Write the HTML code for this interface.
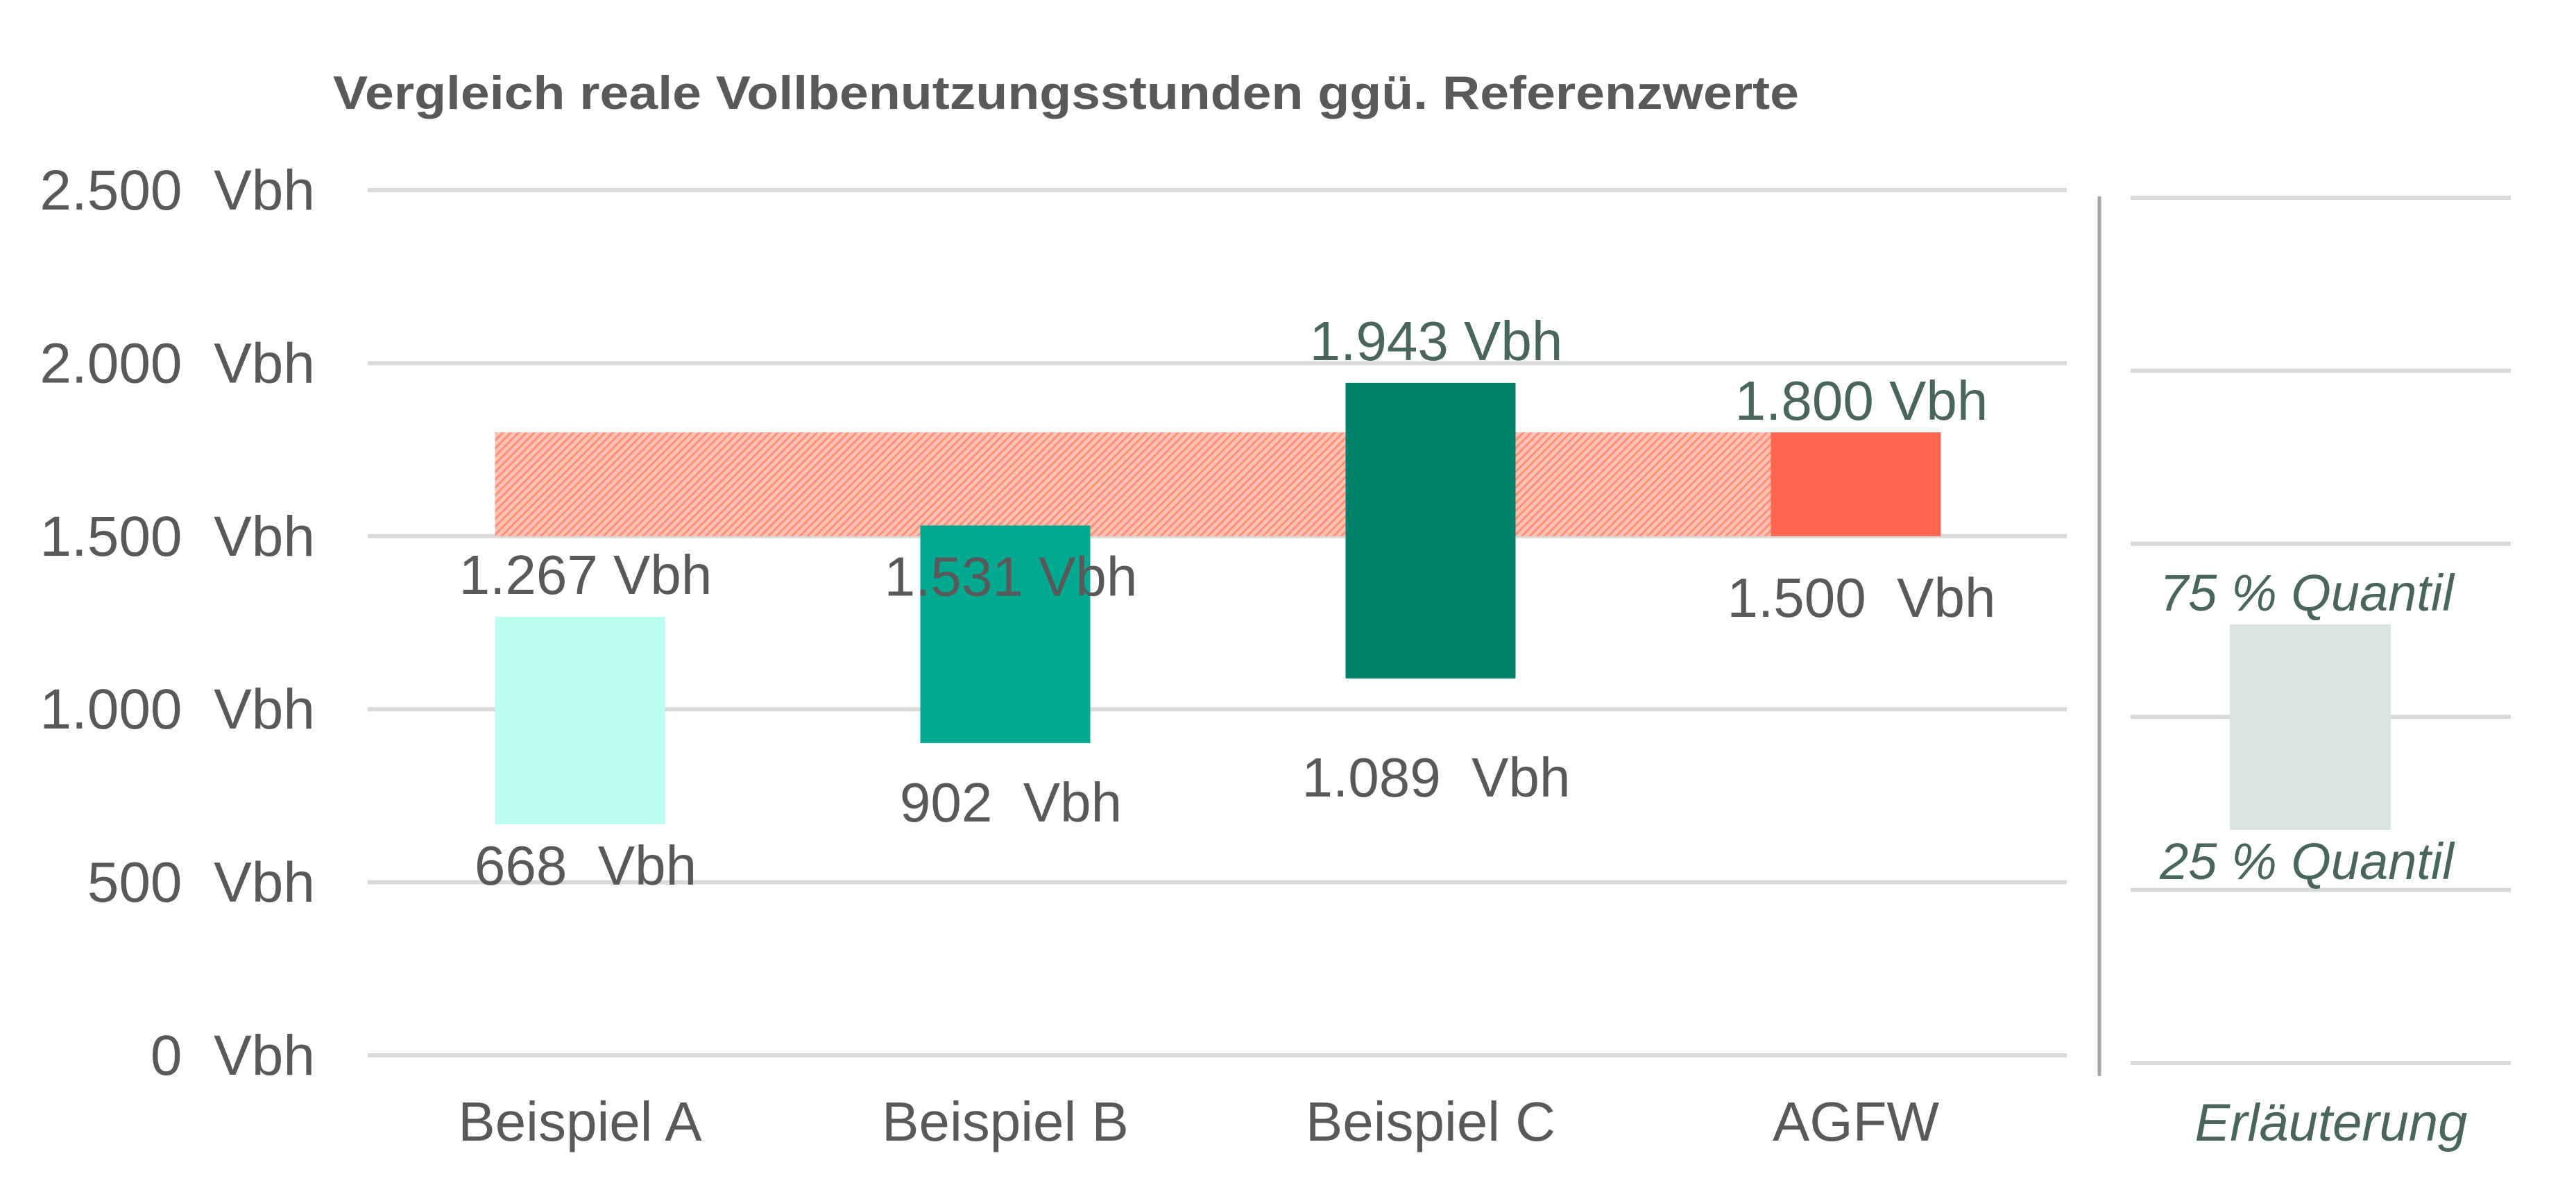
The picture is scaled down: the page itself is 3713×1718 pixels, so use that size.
<!DOCTYPE html>
<html><head><meta charset="utf-8"><style>
html,body{margin:0;padding:0;background:#fff;}
svg{display:block;font-family:"Liberation Sans",Arial,sans-serif;}
</style></head><body>
<svg id="chart" width="3713" height="1718" viewBox="0 0 3713 1718" xmlns="http://www.w3.org/2000/svg">
<defs>
<pattern id="hatch" width="8" height="8" patternUnits="userSpaceOnUse" patternTransform="rotate(45)">
<rect width="8" height="8" fill="#ffc2b4"/>
<rect width="3" height="8" fill="#ff8f78"/>
</pattern>
</defs>
<text x="480" y="157" font-size="68" font-weight="bold" fill="#595959" textLength="2113" lengthAdjust="spacingAndGlyphs">Vergleich reale Vollbenutzungsstunden ggü. Referenzwerte</text>
<g id="grid"></g>
<g id="yaxis"></g>
<g id="bars"></g>
<g id="labels"></g>
<g id="xaxis"></g>
<line x1="3026" y1="283" x2="3026" y2="1551" stroke="#a6a6a6" stroke-width="5"/>
<g id="legendgrid"></g>
<rect x="3214" y="900" width="232" height="296" fill="#d9e3e0"/>
<text x="3325" y="880" font-size="74" font-style="italic" fill="#4a665c" text-anchor="middle">75 % Quantil</text>
<text x="3325" y="1267" font-size="74" font-style="italic" fill="#4a665c" text-anchor="middle">25 % Quantil</text>
<text x="3360" y="1644" font-size="76" font-style="italic" fill="#4a665c" text-anchor="middle">Erläuterung</text>
</svg>
<script>
const categories = ["Beispiel A","Beispiel B","Beispiel C","AGFW"];
const lowValues = [668, 902, 1089, 1500];
const highValues = [1267, 1531, 1943, 1800];
const lowLabels = ["668  Vbh","902  Vbh","1.089  Vbh","1.500  Vbh"];
const highLabels = ["1.267 Vbh","1.531 Vbh","1.943 Vbh","1.800 Vbh"];
const barColors = ["#baffef","#00a98f","#00806b","#ff664d"];
const highLabelColors = ["#595959","#595959","#4a665c","#4a665c"];
const yTicks = [0,500,1000,1500,2000,2500];
const yTickLabels = ["0  Vbh","500  Vbh","1.000  Vbh","1.500  Vbh","2.000  Vbh","2.500  Vbh"];
const refBand = [1500, 1800];

const NS="http://www.w3.org/2000/svg";
const y0=1521, yTop=274, vMax=2500;
function yS(v){return y0-(y0-yTop)*v/vMax;}
const xFirst=836, step=613, barW=245;
function xS(i){return xFirst+i*step;}
const highOff=[-33,101,-33,-18];
const lowOff=[87,113,170,116];
function mk(tag,attrs,parent,text){const e=document.createElementNS(NS,tag);for(const k in attrs)e.setAttribute(k,attrs[k]);if(text!==undefined)e.textContent=text;parent.appendChild(e);return e;}

const grid=document.getElementById('grid'), yaxis=document.getElementById('yaxis');
const lg=document.getElementById('legendgrid');
yTicks.forEach((t,i)=>{
  const l=mk('line',{x1:530,x2:2979,y1:yS(t),y2:yS(t),stroke:'#d9d9d9','stroke-width':6},grid);
  
  
  const tx=mk('text',{x:454,y:yS(t)+28,'font-size':82,fill:'#595959','text-anchor':'end','xml:space':'preserve'},yaxis,yTickLabels[i]);
  tx.style.whiteSpace='pre';
  
  
  const l2=mk('line',{x1:3071,x2:3619,y1:yS(t)+11,y2:yS(t)+11,stroke:'#d9d9d9','stroke-width':6},lg);
  
  
});

const bars=document.getElementById('bars');
const band=mk('rect',{x:xS(0)-barW/2,y:yS(refBand[1]),width:xS(3)-xS(0),height:yS(refBand[0])-yS(refBand[1]),fill:'url(#hatch)'},bars);



const labels=document.getElementById('labels'), xaxis=document.getElementById('xaxis');
categories.forEach((c,i)=>{
  const r=mk('rect',{x:xS(i)-barW/2,y:yS(highValues[i]),width:barW,height:yS(lowValues[i])-yS(highValues[i]),fill:barColors[i]},bars);
  
  
  const ht=mk('text',{x:xS(i)+8,y:yS(highValues[i])+highOff[i],'font-size':80,fill:highLabelColors[i],'text-anchor':'middle','xml:space':'preserve'},labels,highLabels[i]);
  
  
  const lt=mk('text',{x:xS(i)+8,y:yS(lowValues[i])+lowOff[i],'font-size':80,fill:'#595959','text-anchor':'middle','xml:space':'preserve'},labels,lowLabels[i]);
  lt.style.whiteSpace='pre';
  
  
  const ct=mk('text',{x:xS(i),y:1644,'font-size':80,fill:'#595959','text-anchor':'middle'},xaxis,c);
  
  
});
</script>
</body></html>
